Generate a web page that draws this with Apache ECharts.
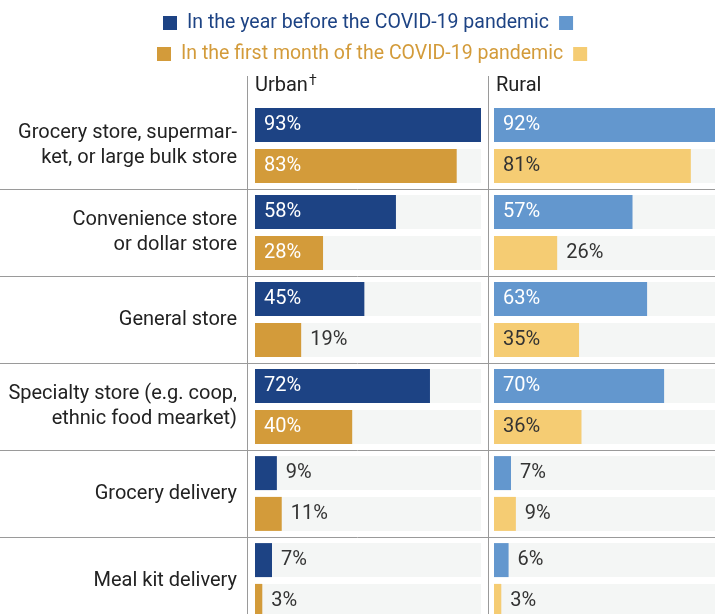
<!DOCTYPE html>
<html><head><meta charset="utf-8">
<script src="https://cdn.jsdelivr.net/npm/echarts@6/dist/echarts.min.js"></script>
<style>html,body{margin:0;padding:0;background:#fff}#c{width:715px;height:614px}</style>
</head><body><div id="c"></div>
<script>
const categories = [
  'Grocery store, supermar-\nket, or large bulk store',
  'Convenience store\nor dollar store',
  'General store',
  'Specialty store (e.g. coop,\nethnic food mearket)',
  'Grocery delivery',
  'Meal kit delivery'
];
const urbanBefore = [93, 58, 45, 72, 9, 7];
const urbanFirstMonth = [83, 28, 19, 40, 11, 3];
const ruralBefore = [92, 57, 63, 70, 7, 6];
const ruralFirstMonth = [81, 26, 35, 36, 9, 3];
const panelNames = ['Urban', 'Rural'];
const legendNames = ['In the year before the COVID-19 pandemic', 'In the first month of the COVID-19 pandemic'];

const FONT = 'Roboto';
const FS = 20;
const C = { darkBlue: '#1d4384', lightBlue: '#6397ce', gold: '#d39b3a', yellow: '#f5cc73', track: '#f4f6f5', text: '#222222', sep: '#9a9a9a' };
const valueMax = Math.max(...urbanBefore, ...urbanFirstMonth, ...ruralBefore, ...ruralFirstMonth);

function barSeries(name, values, idx, color, insideColor) {
  return {
    type: 'bar', name, xAxisIndex: idx, yAxisIndex: idx,
    barWidth: 34, barGap: '20%',
    showBackground: true, backgroundStyle: { color: C.track },
    itemStyle: { color },
    label: { show: true, formatter: '{c}%', distance: 9, fontSize: FS, fontFamily: FONT },
    data: values.map(v => ({
      value: v,
      label: v >= 27 ? { position: 'insideLeft', color: insideColor } : { position: 'right', color: '#333' }
    })),
    silent: true, animation: false
  };
}

function valueAxis(idx) {
  return { type: 'value', gridIndex: idx, min: 0, max: valueMax, show: false };
}
function catAxis(idx, showLabel) {
  return {
    type: 'category', gridIndex: idx, data: categories, inverse: true,
    axisLine: { show: false }, axisTick: { show: false }, splitLine: { show: false },
    axisLabel: { show: showLabel, fontSize: FS, fontFamily: FONT, color: C.text, lineHeight: 25, margin: 18, align: 'right' }
  };
}
function legendLine(name, c1, c2) {
  return {
    padding: 0,
    text: '{s|}{t|' + name + '}{s2|}',
    textStyle: { fontWeight: 'normal', rich: {
      s: { width: 14, height: 14, backgroundColor: c1 },
      t: { fontSize: 19.5, fontFamily: FONT, fontWeight: 'normal', color: c1, padding: [0, 10, 0, 10], lineHeight: 24 },
      s2: { width: 14, height: 14, backgroundColor: c2 }
    } }
  };
}

const chart = echarts.init(document.getElementById('c'), null, { renderer: 'canvas' });
const gridBase = { outerBoundsMode: 'none', containLabel: false };
chart.setOption({
  animation: false,
  backgroundColor: '#fff',
  title: [
    Object.assign({ left: 163, top: 11 }, legendLine(legendNames[0], C.darkBlue, C.lightBlue)),
    Object.assign({ left: 157, top: 42 }, legendLine(legendNames[1], C.gold, C.yellow))
  ],
  graphic: [
    { type: 'line', shape: { x1: 247.5, y1: 76, x2: 247.5, y2: 614 }, style: { stroke: C.sep, lineWidth: 1 }, silent: true },
    { type: 'line', shape: { x1: 488.5, y1: 76, x2: 488.5, y2: 614 }, style: { stroke: C.sep, lineWidth: 1 }, silent: true },
    { type: 'text', x: 255, y: 86, style: { text: panelNames[0], font: FS + 'px Roboto', fill: C.text, textVerticalAlign: 'middle' }, silent: true },
    { type: 'text', x: 309, y: 74, style: { text: '\u2020', font: '14px Roboto', fill: C.text, textVerticalAlign: 'top' }, silent: true },
    { type: 'text', x: 496, y: 86, style: { text: panelNames[1], font: FS + 'px Roboto', fill: C.text, textVerticalAlign: 'middle' }, silent: true }
  ],
  grid: [
    Object.assign({ left: 255, width: 226, top: 102, height: 522 }, gridBase),
    Object.assign({ left: 494, width: 226, top: 102, height: 522 }, gridBase),
    Object.assign({ left: 0, width: 715, top: 102, height: 522 }, gridBase)
  ],
  xAxis: [valueAxis(0), valueAxis(1), { type: 'value', gridIndex: 2, show: false }],
  yAxis: [
    catAxis(0, true), catAxis(1, false),
    {
      type: 'value', gridIndex: 2, min: 0, max: categories.length, interval: 1, inverse: true,
      axisLine: { show: false }, axisTick: { show: false }, axisLabel: { show: false },
      splitLine: { show: true, lineStyle: { width: 1, color: ['rgba(0,0,0,0)'].concat(categories.map(() => C.sep)) } }
    }
  ],
  series: [
    barSeries(legendNames[0], urbanBefore, 0, C.darkBlue, '#ffffff'),
    barSeries(legendNames[1], urbanFirstMonth, 0, C.gold, '#ffffff'),
    barSeries(legendNames[0], ruralBefore, 1, C.lightBlue, '#ffffff'),
    barSeries(legendNames[1], ruralFirstMonth, 1, C.yellow, '#333333')
  ]
});
</script>
</body></html>
